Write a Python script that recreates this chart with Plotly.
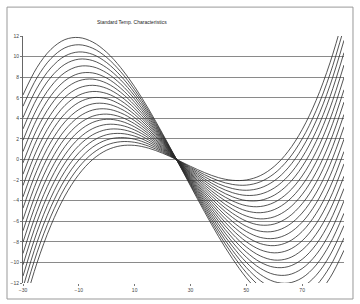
import plotly.graph_objects as go

# Temperature axis (deg C)
temperature = [-30, -25, -20, -15, -10, -5, 0, 5, 10, 15, 20, 25,
               30, 35, 40, 45, 50, 55, 60, 65, 70, 75, 80, 85]

# Frequency deviation curves (ppm), one per cut angle
curve_00 = [-14.63, -10.06, -6.40, -3.55, -1.45, 0.01, 0.91, 1.33, 1.37, 1.10, 0.61, 0, -0.66, -1.27, -1.76, -2.02, -1.99, -1.57, -0.67, 0.79, 2.90, 5.74, 9.41, 13.98]
curve_01 = [-13.53, -9.06, -5.50, -2.75, -0.75, 0.61, 1.41, 1.73, 1.67, 1.30, 0.71, 0, -0.76, -1.47, -2.06, -2.42, -2.49, -2.17, -1.37, -0.01, 2.00, 4.74, 8.31, 12.78]
curve_02 = [-12.43, -8.06, -4.60, -1.95, -0.05, 1.21, 1.91, 2.13, 1.97, 1.50, 0.81, 0, -0.86, -1.67, -2.36, -2.82, -2.99, -2.77, -2.07, -0.81, 1.10, 3.74, 7.21, 11.58]
curve_03 = [-11.33, -7.06, -3.70, -1.15, 0.65, 1.81, 2.41, 2.53, 2.27, 1.70, 0.91, 0, -0.96, -1.87, -2.66, -3.22, -3.49, -3.37, -2.77, -1.61, 0.20, 2.74, 6.11, 10.38]
curve_04 = [-10.23, -6.06, -2.80, -0.35, 1.35, 2.41, 2.91, 2.93, 2.57, 1.90, 1.01, 0, -1.06, -2.07, -2.96, -3.62, -3.99, -3.97, -3.47, -2.41, -0.70, 1.74, 5.01, 9.18]
curve_05 = [-9.13, -5.06, -1.90, 0.45, 2.05, 3.01, 3.41, 3.33, 2.87, 2.10, 1.11, 0, -1.16, -2.27, -3.26, -4.02, -4.49, -4.57, -4.17, -3.21, -1.60, 0.74, 3.91, 7.98]
curve_06 = [-8.03, -4.06, -1.00, 1.25, 2.75, 3.61, 3.91, 3.73, 3.17, 2.30, 1.21, 0, -1.26, -2.47, -3.56, -4.42, -4.99, -5.17, -4.87, -4.01, -2.50, -0.26, 2.81, 6.78]
curve_07 = [-6.93, -3.06, -0.10, 2.05, 3.45, 4.21, 4.41, 4.13, 3.47, 2.50, 1.31, 0, -1.36, -2.67, -3.86, -4.82, -5.49, -5.77, -5.57, -4.81, -3.40, -1.26, 1.71, 5.58]
curve_08 = [-5.83, -2.06, 0.80, 2.85, 4.15, 4.81, 4.91, 4.53, 3.77, 2.70, 1.41, 0, -1.46, -2.87, -4.16, -5.22, -5.99, -6.37, -6.27, -5.61, -4.30, -2.26, 0.61, 4.38]
curve_09 = [-4.73, -1.06, 1.70, 3.65, 4.85, 5.41, 5.41, 4.93, 4.07, 2.90, 1.51, 0, -1.56, -3.07, -4.46, -5.62, -6.49, -6.97, -6.97, -6.41, -5.20, -3.26, -0.49, 3.18]
curve_10 = [-3.63, -0.06, 2.60, 4.45, 5.55, 6.01, 5.91, 5.33, 4.37, 3.10, 1.61, 0, -1.66, -3.27, -4.76, -6.02, -6.99, -7.57, -7.67, -7.21, -6.10, -4.26, -1.59, 1.98]
curve_11 = [-2.53, 0.94, 3.50, 5.25, 6.25, 6.61, 6.41, 5.73, 4.67, 3.30, 1.71, 0, -1.76, -3.47, -5.06, -6.42, -7.49, -8.17, -8.37, -8.01, -7.00, -5.26, -2.69, 0.78]
curve_12 = [-1.43, 1.94, 4.40, 6.05, 6.95, 7.21, 6.91, 6.13, 4.97, 3.50, 1.81, 0, -1.86, -3.67, -5.36, -6.82, -7.99, -8.77, -9.07, -8.81, -7.90, -6.26, -3.79, -0.42]
curve_13 = [-0.33, 2.94, 5.30, 6.85, 7.65, 7.81, 7.41, 6.53, 5.27, 3.70, 1.91, 0, -1.96, -3.87, -5.66, -7.22, -8.49, -9.37, -9.77, -9.61, -8.80, -7.26, -4.89, -1.62]
curve_14 = [0.77, 3.94, 6.20, 7.65, 8.35, 8.41, 7.91, 6.93, 5.57, 3.90, 2.01, 0, -2.06, -4.07, -5.96, -7.62, -8.99, -9.97, -10.47, -10.41, -9.70, -8.26, -5.99, -2.82]
curve_15 = [1.87, 4.94, 7.10, 8.45, 9.05, 9.01, 8.41, 7.33, 5.87, 4.10, 2.11, 0, -2.16, -4.27, -6.26, -8.02, -9.49, -10.57, -11.17, -11.21, -10.60, -9.26, -7.09, -4.02]
curve_16 = [2.97, 5.94, 8.00, 9.25, 9.75, 9.61, 8.91, 7.73, 6.17, 4.30, 2.21, 0, -2.26, -4.47, -6.56, -8.42, -9.99, -11.17, -11.87, -12.01, -11.50, -10.26, -8.19, -5.22]
curve_17 = [4.07, 6.94, 8.90, 10.05, 10.45, 10.21, 9.41, 8.13, 6.47, 4.50, 2.31, 0, -2.36, -4.67, -6.86, -8.82, -10.49, -11.77, -12.57, -12.81, -12.40, -11.26, -9.29, -6.42]
curve_18 = [5.17, 7.94, 9.80, 10.85, 11.15, 10.81, 9.91, 8.53, 6.77, 4.70, 2.41, 0, -2.46, -4.87, -7.16, -9.22, -10.99, -12.37, -13.27, -13.61, -13.30, -12.26, -10.39, -7.62]
curve_19 = [6.27, 8.94, 10.70, 11.65, 11.85, 11.41, 10.41, 8.93, 7.07, 4.90, 2.51, 0, -2.56, -5.07, -7.46, -9.62, -11.49, -12.97, -13.97, -14.41, -14.20, -13.26, -11.49, -8.82]

x_ticks = [-30, -10, 10, 30, 50, 70]
title_text = "Standard Temp. Characteristics"

curves = [curve_00, curve_01, curve_02, curve_03, curve_04, curve_05, curve_06, curve_07,
          curve_08, curve_09, curve_10, curve_11, curve_12, curve_13, curve_14, curve_15,
          curve_16, curve_17, curve_18, curve_19]

fig = go.Figure()
for c in curves:
    fig.add_trace(go.Scatter(x=temperature, y=c, mode="lines",
                             line=dict(color="#2a2a2a", width=0.8, shape="spline"),
                             showlegend=False, hoverinfo="skip"))

fig.update_layout(
    width=360, height=304, margin=dict(l=23, r=16, t=36, b=21),
    paper_bgcolor="white", plot_bgcolor="white",
    font=dict(family="Liberation Sans, Arial, sans-serif", size=5, color="#444"),
    xaxis=dict(range=[-30, 85], tickvals=x_ticks, showgrid=False, zeroline=False,
               showline=False, ticks="outside", ticklen=2, tickcolor="#777",
               tickfont=dict(size=5, color="#444")),
    yaxis=dict(range=[-12, 12], dtick=2, showgrid=True, gridcolor="#8a8a8a", gridwidth=1,
               zeroline=False, showline=True, linecolor="#666", linewidth=1,
               ticks="outside", ticklen=2, tickcolor="#777", tickfont=dict(size=5, color="#444")),
    annotations=[dict(text=title_text, xref="paper", yref="paper", x=0.34, y=1.077,
                      showarrow=False, font=dict(size=5, color="#222"))],
    shapes=[dict(type="rect", xref="paper", yref="paper", x0=-0.0498, x1=1.028,
                 y0=-0.0648, y1=1.117, line=dict(color="#999", width=1))],
)
fig.write_html("out.html")
